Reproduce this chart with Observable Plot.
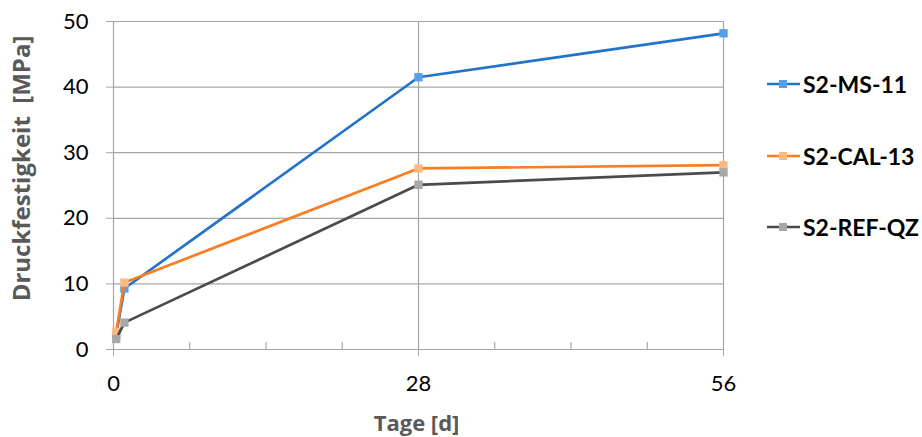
<!DOCTYPE html>
<html><head><meta charset="utf-8">
<script src="https://cdn.jsdelivr.net/npm/d3@7"></script>
<script src="https://cdn.jsdelivr.net/npm/@observablehq/plot@0.6"></script>
<style>body{margin:0;background:#fff;} svg{display:block;}</style>
</head><body><div id="chart"></div>
<script>
const days = [0.25, 1, 28, 56];
const seriesNames = ["S2-MS-11", "S2-CAL-13", "S2-REF-QZ"];
const ms11 = [2.3, 9.3, 41.5, 48.2];
const cal13 = [2.7, 10.2, 27.6, 28.1];
const refqz = [1.6, 4.1, 25.1, 27.0];
const lineColors = ["#2273c9", "#fb7d21", "#4b4b4b"];
const markerColors = ["#57a0e6", "#ffba84", "#a8a8a8"];
const xTicks = [0, 28, 56];
const xMinorTicks = [7, 14, 21, 35, 42, 49];
const yTicks = [0, 10, 20, 30, 40, 50];
const xTitle = "Tage [d]";
const yTitle = "Druckfestigkeit  [MPa]";

const values = [ms11, cal13, refqz];
const data = seriesNames.flatMap((s, i) => days.map((d, j) => ({series: s, day: d, value: values[i][j]})));
const grid = "#a6a6a6";

const seriesMarks = seriesNames.flatMap((s, i) => [
  Plot.line(data.filter(d => d.series === s), {x: "day", y: "value", stroke: lineColors[i], strokeWidth: 2.7}),
  Plot.dot(data.filter(d => d.series === s), {x: "day", y: "value", symbol: "square", r: 4.7, fill: markerColors[i], stroke: "none"})
]);

const svg = Plot.plot({
  width: 922, height: 437,
  marginLeft: 113, marginRight: 199, marginTop: 21, marginBottom: 88,
  style: {fontFamily: "Lato, sans-serif", background: "#fff"},
  x: {domain: [0, 56]},
  y: {domain: [0, 50]},
  marks: [
    Plot.gridY(yTicks.slice(1), {stroke: grid, strokeOpacity: 1, strokeWidth: 1.2}),
    Plot.gridX([28, 56], {stroke: grid, strokeOpacity: 1, strokeWidth: 1.2}),
    Plot.ruleY([0], {stroke: grid, strokeWidth: 1.2}),
    Plot.ruleX([0], {stroke: grid, strokeWidth: 1.2}),
    Plot.axisY({ticks: yTicks, tickSize: 7, tickPadding: 18, fontSize: 22, stroke: grid, fill: "#000", label: null}),
    Plot.axisX({ticks: xTicks, tickSize: 7, tickPadding: 19, fontSize: 22, stroke: grid, fill: "#000", label: null}),
    Plot.ruleX(xMinorTicks, {x: d => d, y1: 0, y2: 0, insetTop: -7, stroke: grid, strokeWidth: 1.2}),
    Plot.text([yTitle], {frameAnchor: "left", rotate: -90, dx: -84, dy: -17, fontSize: 24, fontFamily: "'Open Sans', sans-serif", fontWeight: "bold", fill: "#595959", textAnchor: "middle", lineAnchor: "bottom"}),
    Plot.text([xTitle], {frameAnchor: "bottom", dy: 81, dx: -2, fontSize: 22, fontFamily: "'Open Sans', sans-serif", fontWeight: "bold", fill: "#595959", textAnchor: "middle", lineAnchor: "bottom"}),
    ...seriesMarks
  ]
});

// legend
const lg = d3.select(svg).append("g").attr("font-family", "Lato, sans-serif").attr("text-anchor", "start");
const legendY = [84, 156, 227];
seriesNames.forEach((s, i) => {
  const g = lg.append("g").attr("transform", `translate(767,${legendY[i]})`);
  g.append("line").attr("x1", 0).attr("x2", 33).attr("y1", 0).attr("y2", 0).attr("stroke", lineColors[i]).attr("stroke-width", 2.7);
  g.append("rect").attr("x", 12).attr("y", -4).attr("width", 8).attr("height", 8).attr("fill", markerColors[i]);
  g.append("text").attr("x", 36).attr("y", 8.5).attr("font-size", 23).attr("font-weight", "bold").attr("fill", "#000").attr("text-anchor", "start").text(s);
});

document.getElementById("chart").append(svg);
</script>
</body></html>
